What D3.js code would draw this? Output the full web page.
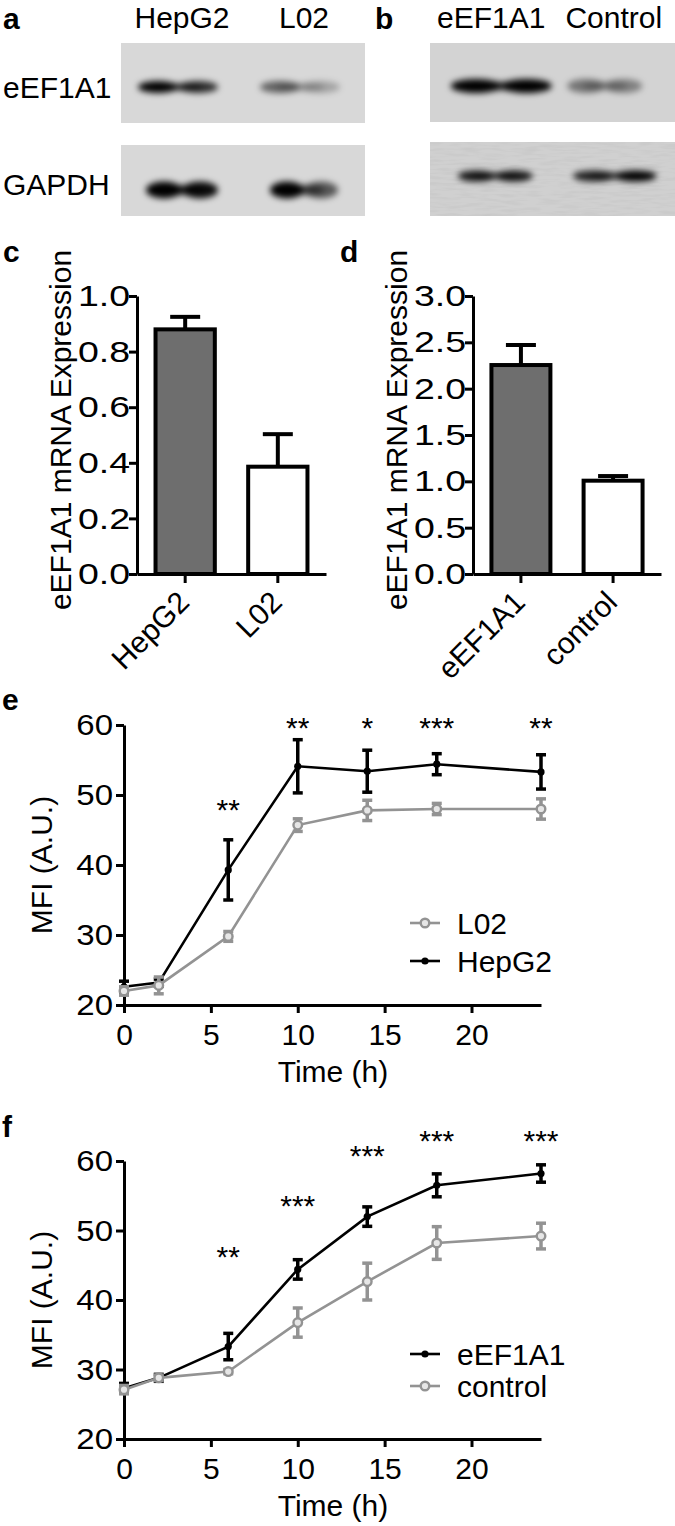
<!DOCTYPE html>
<html><head><meta charset="utf-8">
<script src="https://cdn.jsdelivr.net/npm/d3@7"></script>
<style>
body{margin:0;background:#fff;}
svg{display:block;font-family:"Liberation Sans",Arial,Helvetica,sans-serif;}
</style></head><body>
<svg id="fig" width="675" height="1526"></svg>
<script>
// ---------------- data ----------------
const blotLanesA = ["HepG2", "L02"];
const blotLanesB = ["eEF1A1", "Control"];
const blotRows = ["eEF1A1", "GAPDH"];
// band intensities [left lobe, right lobe] per lane
const bandA_eEF1A1 = [[1.0, 0.8], [0.55, 0.25]];
const bandA_GAPDH  = [[1.0, 0.95], [1.0, 0.6]];
const bandB_eEF1A1 = [[1.0, 1.0], [0.45, 0.4]];
const bandB_GAPDH  = [[0.9, 0.9], [0.85, 1.0]];

const cCats = ["HepG2", "L02"];
const cMeans = [0.88, 0.386];
const cErr = [0.045, 0.117];
const cTicks = [0, 0.2, 0.4, 0.6, 0.8, 1.0];

const dCats = ["eEF1A1", "control"];
const dMeans = [2.255, 1.007];
const dErr = [0.216, 0.05];
const dTicks = [0, 0.5, 1.0, 1.5, 2.0, 2.5, 3.0];

const times = [0, 2, 6, 10, 14, 18, 24];
const timeTicks = [0, 5, 10, 15, 20];
const mfiTicks = [20, 30, 40, 50, 60];

const eHepG2    = [22.6, 23.2, 39.3, 54.1, 53.4, 54.4, 53.3];
const eHepG2Err = [0.8, 0.5, 4.3, 3.8, 3.0, 1.5, 2.45];
const eL02      = [22.0, 22.8, 29.8, 45.7, 47.8, 48.0, 48.0];
const eL02Err   = [0.6, 1.2, 0.7, 0.9, 1.45, 0.8, 1.45];
const eStarTimes  = [6, 10, 14, 18, 24];
const eStarLabels = ["**", "**", "*", "***", "**"];
const eStarY      = [46.4, 58.1, 58.1, 58.1, 58.1];

const fEEF1A1    = [27.3, 28.8, 33.3, 44.4, 52.0, 56.5, 58.2];
const fEEF1A1Err = [0.7, 0.5, 1.9, 1.4, 1.4, 1.65, 1.25];
const fControl    = [27.1, 28.8, 29.7, 36.75, 42.65, 48.2, 49.2];
const fControlErr = [0.6, 0.4, 0.3, 2.1, 2.65, 2.35, 1.85];
const fStarTimes  = [6, 10, 14, 18, 24];
const fStarLabels = ["**", "***", "***", "***", "***"];
const fStarY      = [44.75, 52.1, 59.3, 61.4, 61.4];

// ---------------- drawing ----------------
const svg = d3.select("#fig");
const FS = 30;
const GRAY = "#939393";

const defs = svg.append("defs");
defs.append("filter").attr("id", "blur").attr("x", "-50%").attr("y", "-100%").attr("width", "200%").attr("height", "300%")
  .append("feGaussianBlur").attr("stdDeviation", 3.2);
const nf = defs.append("filter").attr("id", "grain").attr("x", 0).attr("y", 0).attr("width", "100%").attr("height", "100%");
nf.append("feTurbulence").attr("type", "fractalNoise").attr("baseFrequency", "0.05 0.35").attr("numOctaves", 2).attr("seed", 3).attr("result", "n");
nf.append("feColorMatrix").attr("in", "n").attr("type", "matrix")
  .attr("values", "0 0 0 0 0  0 0 0 0 0  0 0 0 0 0  0 0 0 -0.9 0.55").attr("result", "a");
nf.append("feComposite").attr("in", "a").attr("in2", "SourceGraphic").attr("operator", "in");

function panelLabel(t, x, y) {
  svg.append("text").attr("x", x).attr("y", y).attr("font-size", 30).attr("font-weight", "bold").text(t);
}

// ---- Western blots ----
function blot(x0, x1, lanes, rowsY, bands, bg, laneHeaderY, hw, bandH, grain) {
  const xs = d3.scaleBand().domain(lanes).range([x0, x1]);
  lanes.forEach(l => {
    svg.append("text").attr("x", xs(l) + xs.bandwidth() / 2).attr("y", laneHeaderY)
      .attr("text-anchor", "middle").attr("font-size", FS).text(l);
  });
  rowsY.forEach((r, ri) => {
    svg.append("rect").attr("x", x0).attr("y", r.top).attr("width", x1 - x0).attr("height", r.h).attr("fill", bg[ri]);
    if (grain[ri]) {
      svg.append("rect").attr("x", x0).attr("y", r.top).attr("width", x1 - x0).attr("height", r.h)
        .attr("fill", "#000").attr("opacity", 0.08).attr("filter", "url(#grain)");
    }
    const g = svg.append("g").attr("filter", "url(#blur)");
    lanes.forEach((l, li) => {
      const c = xs(l) + xs.bandwidth() / 2 + r.shift[li];
      const [lv, rv] = bands[ri][li];
      const h = bandH[ri];
      const w = hw * r.wscale[li];
      g.append("ellipse").attr("cx", c - w * 0.5).attr("cy", r.cy).attr("rx", w * 0.5).attr("ry", h / 2).attr("fill", "#000").attr("opacity", lv);
      g.append("ellipse").attr("cx", c + w * 0.5).attr("cy", r.cy).attr("rx", w * 0.5).attr("ry", h / 2).attr("fill", "#000").attr("opacity", rv);
      g.append("ellipse").attr("cx", c).attr("cy", r.cy).attr("rx", w * 0.6).attr("ry", h * 0.32).attr("fill", "#000").attr("opacity", (lv + rv) * 0.3);
    });
  });
}
panelLabel("a", 3, 29);
panelLabel("b", 375, 29);
svg.append("text").attr("x", 3).attr("y", 98).attr("font-size", FS).text(blotRows[0]);
svg.append("text").attr("x", 3).attr("y", 195).attr("font-size", FS).text(blotRows[1]);
blot(121, 365, blotLanesA,
  [{top: 43, h: 80, cy: 87, shift: [-4, -4], wscale: [1, 1]}, {top: 145, h: 71, cy: 190, shift: [0, 0], wscale: [0.9, 0.85]}],
  [bandA_eEF1A1, bandA_GAPDH], ["#d8d8d8", "#d8d8d8"], 28, 40, [12, 17], [false, false]);
blot(430, 675, blotLanesB,
  [{top: 43, h: 79, cy: 86, shift: [10, -9], wscale: [1.15, 0.85]}, {top: 142, h: 74, cy: 176, shift: [4, 1], wscale: [0.85, 0.95]}],
  [bandB_eEF1A1, bandB_GAPDH], ["#d3d3d3", "#d0d0d0"], 28, 44, [14, 11], [false, true]);

// ---- Bar panels ----
function styleAxis(g) {
  g.selectAll("path").attr("stroke", "#000").attr("stroke-width", 3);
  g.selectAll("line").attr("stroke", "#000").attr("stroke-width", 3);
  g.selectAll("text").attr("font-size", FS).attr("fill", "#000").attr("font-family", null);
}
function barPanel(label, lx, x0, x1, cats, means, errs, ticks, ymax, fmt) {
  const yTop = 296, yBot = 574;
  const x = d3.scaleBand().domain(cats).range([x0, x1]).paddingInner(0.36).paddingOuter(0.2);
  const y = d3.scaleLinear().domain([0, ymax]).range([yBot, yTop]);
  panelLabel(label, lx, 262);
  const fills = ["#6e6e6e", "#ffffff"];
  cats.forEach((c, i) => {
    const cx = x(c) + x.bandwidth() / 2;
    svg.append("line").attr("x1", cx).attr("x2", cx).attr("y1", y(means[i])).attr("y2", y(means[i] + errs[i]))
      .attr("stroke", "#000").attr("stroke-width", 4);
    svg.append("line").attr("x1", cx - 15).attr("x2", cx + 15).attr("y1", y(means[i] + errs[i])).attr("y2", y(means[i] + errs[i]))
      .attr("stroke", "#000").attr("stroke-width", 4);
    svg.append("rect").attr("x", x(c)).attr("y", y(means[i])).attr("width", x.bandwidth()).attr("height", yBot - y(means[i]))
      .attr("fill", fills[i]).attr("stroke", "#000").attr("stroke-width", 4);
  });
  const ga = svg.append("g").attr("transform", `translate(${x0},0)`)
    .call(d3.axisLeft(y).tickValues(ticks).tickFormat(d3.format(fmt)).tickSize(8).tickSizeOuter(0).tickPadding(1));
  styleAxis(ga);
  // wide tick-label glyphs as in the original figure
  ga.selectAll(".tick text").attr("x", -7 / 1.25).attr("transform", "scale(1.25,1)");
  const gb = svg.append("g").attr("transform", `translate(0,${yBot})`)
    .call(d3.axisBottom(x).tickSize(9).tickSizeOuter(0).tickFormat(""));
  styleAxis(gb);
  cats.forEach(c => {
    const cx = x(c) + x.bandwidth() / 2;
    svg.append("text").attr("transform", `translate(${cx + 6},604) rotate(-45)`)
      .attr("text-anchor", "end").attr("font-size", FS).text(c);
  });
  svg.append("text").attr("transform", `translate(${x0 - 66},430) rotate(-90)`)
    .attr("text-anchor", "middle").attr("font-size", FS).text("eEF1A1 mRNA Expression");
}
barPanel("c", 3, 137, 326, cCats, cMeans, cErr, cTicks, 1.0, ".1f");
barPanel("d", 340, 473, 661, dCats, dMeans, dErr, dTicks, 3.0, ".1f");

// ---- Line panels ----
function linePanel(label, labelY, yTop, yBot, series, starT, starL, starY, legendY) {
  const x = d3.scaleLinear().domain([0, 24]).range([124, 541]);
  const y = d3.scaleLinear().domain([20, 60]).range([yBot, yTop]);
  panelLabel(label, 2, labelY);
  const ga = svg.append("g").attr("transform", "translate(124,0)")
    .call(d3.axisLeft(y).tickValues(mfiTicks).tickSize(8).tickSizeOuter(0).tickPadding(3));
  styleAxis(ga);
  ga.selectAll(".tick text").attr("x", -11 / 1.1).attr("transform", "scale(1.1,1)");
  const gb = svg.append("g").attr("transform", `translate(0,${yBot})`)
    .call(d3.axisBottom(x).tickValues(timeTicks).tickSize(8).tickSizeOuter(0).tickPadding(11));
  styleAxis(gb);
  svg.append("text").attr("x", 333).attr("y", yBot + 77).attr("text-anchor", "middle").attr("font-size", FS).text("Time (h)");
  svg.append("text").attr("transform", `translate(52,${(yTop + yBot) / 2}) rotate(-90)`)
    .attr("text-anchor", "middle").attr("font-size", FS).text("MFI (A.U.)");
  const line = d3.line().x((d, i) => x(times[i])).y(d => y(d));
  series.forEach(s => {
    const g = svg.append("g");
    g.append("path").attr("d", line(s.vals)).attr("fill", "none").attr("stroke", s.color).attr("stroke-width", 2.6);
    s.vals.forEach((v, i) => {
      const cx = x(times[i]);
      const t = y(v + s.errs[i]), b = y(v - s.errs[i]);
      g.append("line").attr("x1", cx).attr("x2", cx).attr("y1", t).attr("y2", b).attr("stroke", s.color).attr("stroke-width", 3.5);
      [t, b].forEach(yy => g.append("line").attr("x1", cx - 5).attr("x2", cx + 5).attr("y1", yy).attr("y2", yy)
        .attr("stroke", s.color).attr("stroke-width", 3.5));
      drawMarker(g, cx, y(v), s);
    });
  });
  starT.forEach((t, i) => {
    svg.append("text").attr("x", x(t)).attr("y", y(starY[i])).attr("text-anchor", "middle").attr("font-size", FS).text(starL[i]);
  });
  legendY.forEach((ly, i) => {
    const s = series.find(d => d.legendIndex === i);
    svg.append("line").attr("x1", 410).attr("x2", 440).attr("y1", ly).attr("y2", ly).attr("stroke", s.color).attr("stroke-width", 2.6);
    drawMarker(svg, 425, ly, s);
    svg.append("text").attr("x", 457).attr("y", ly + 11).attr("font-size", FS).text(s.name);
  });
}
function drawMarker(g, cx, cy, s) {
  if (s.open) {
    g.append("circle").attr("cx", cx).attr("cy", cy).attr("r", 4.3).attr("fill", "#e6e6e6").attr("stroke", s.color).attr("stroke-width", 2.4);
  } else {
    g.append("circle").attr("cx", cx).attr("cy", cy).attr("r", 3.6).attr("fill", s.color);
  }
}
linePanel("e", 710, 725, 1005,
  [{name: "HepG2", vals: eHepG2, errs: eHepG2Err, color: "#000", open: false, legendIndex: 1},
   {name: "L02", vals: eL02, errs: eL02Err, color: GRAY, open: true, legendIndex: 0}],
  eStarTimes, eStarLabels, eStarY, [923, 961]);
linePanel("f", 1137, 1161, 1439,
  [{name: "eEF1A1", vals: fEEF1A1, errs: fEEF1A1Err, color: "#000", open: false, legendIndex: 0},
   {name: "control", vals: fControl, errs: fControlErr, color: GRAY, open: true, legendIndex: 1}],
  fStarTimes, fStarLabels, fStarY, [1354, 1386]);
</script>
</body></html>
